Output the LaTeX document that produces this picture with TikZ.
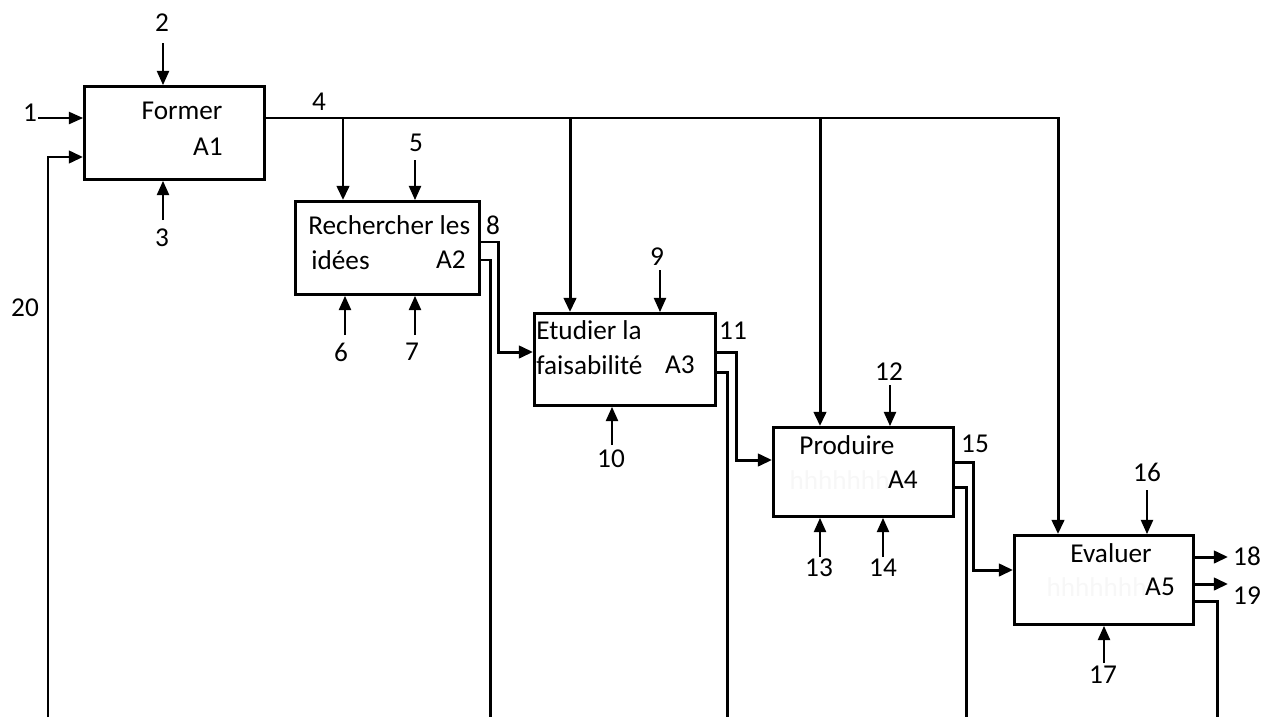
\documentclass[tikz,border=0pt]{standalone}
\usepackage{fontspec}
\setmainfont{Carlito}
\usetikzlibrary{arrows.meta,calc}
\begin{document}
\begin{tikzpicture}[x=0.02cm,y=-0.02cm,
  box/.style={draw, line width=1.7pt, rectangle, anchor=north west, inner sep=0},
  flow/.style={line width=1.7pt, -{Triangle[length=8pt,width=7pt]}},
  pipe/.style={line width=1.7pt},
  ctrl/.style={line width=0.7pt, -{Triangle[length=8pt,width=7pt]}},
  lbl/.style={font=\fontsize{15.5}{18}\selectfont, inner sep=0},
  faint/.style={font=\fontsize{15.5}{18}\selectfont, inner sep=0, text=black!3}]
\useasboundingbox (0,0) rectangle (1264,717);

% boxes
\node[box, minimum width=3.6cm,  minimum height=1.86cm] (A1) at (83,85) {};
\node[box, minimum width=3.68cm, minimum height=1.86cm] (A2) at (294,200) {};
\node[box, minimum width=3.62cm, minimum height=1.84cm] (A3) at (533,312) {};
\node[box, minimum width=3.6cm,  minimum height=1.78cm] (A4) at (772,426) {};
\node[box, minimum width=3.58cm, minimum height=1.78cm] (A5) at (1013,534) {};

% box texts
\node[lbl] (t1) at (182,111) {Former};
\node[lbl] (t1a) at (208,147) {A1};
\node[lbl, anchor=west] (t2) at (308,225) {Rechercher les};
\node[lbl, anchor=west] (t2b) at (311,260) {idées};
\node[lbl] (t2a) at (451,260) {A2};
\node[lbl, anchor=west] (t3) at (536,330) {Etudier la};
\node[lbl, anchor=west] (t3b) at (536,365) {faisabilité};
\node[lbl] (t3a) at (680,365) {A3};
\node[lbl] (t4) at (847,445) {Produire};
\node[faint, anchor=east] (h4) at (890,480) {hhhhhhh};
\node[lbl] (t4a) at (903,480) {A4};
\node[lbl] (t5) at (1111,553) {Evaluer};
\node[faint, anchor=east] (h5) at (1147,587) {hhhhhhh};
\node[lbl] (t5a) at (1160,587) {A5};

% number labels
\node[lbl] (n1) at (30,113) {1};
\node[lbl] (n2) at (162,23) {2};
\node[lbl] (n3) at (162,238) {3};
\node[lbl] (n4) at (319,102) {4};
\node[lbl] (n5) at (416,143) {5};
\node[lbl] (n6) at (341,352) {6};
\node[lbl] (n7) at (412,352) {7};
\node[lbl] (n8) at (493,225) {8};
\node[lbl] (n9) at (657,257) {9};
\node[lbl] (n10) at (611,459) {10};
\node[lbl] (n11) at (733,331) {11};
\node[lbl] (n12) at (889,372) {12};
\node[lbl] (n13) at (819,568) {13};
\node[lbl] (n14) at (883,568) {14};
\node[lbl] (n15) at (975,444) {15};
\node[lbl] (n16) at (1147,472) {16};
\node[lbl] (n17) at (1103,675) {17};
\node[lbl] (n18) at (1247,556) {18};
\node[lbl] (n19) at (1247,596) {19};
\node[lbl] (n20) at (25,308) {20};

% thin arrow tails
\coordinate (c1) at (38,118);
\coordinate (c2) at (163,43);
\coordinate (c3) at (163,220);
\coordinate (c5) at (415,160);
\coordinate (c6) at (345,335);
\coordinate (c7) at (415,335);
\coordinate (c9) at (660,270);
\coordinate (c10) at (612,445);
\coordinate (c12) at (890,385);
\coordinate (c13) at (820,557);
\coordinate (c14) at (883,557);
\coordinate (c16) at (1147,490);
\coordinate (c17) at (1104,663);

\draw[ctrl] (c1) -- (c1 -| A1.west);
\draw[ctrl] (c2) -- (c2 |- A1.north);
\draw[ctrl] (c3) -- (c3 |- A1.south);
\draw[ctrl] (c5) -- (c5 |- A2.north);
\draw[ctrl] (c6) -- (c6 |- A2.south);
\draw[ctrl] (c7) -- (c7 |- A2.south);
\draw[ctrl] (c9) -- (c9 |- A3.north);
\draw[ctrl] (c10) -- (c10 |- A3.south);
\draw[ctrl] (c12) -- (c12 |- A4.north);
\draw[ctrl] (c13) -- (c13 |- A4.south);
\draw[ctrl] (c14) -- (c14 |- A4.south);
\draw[ctrl] (c16) -- (c16 |- A5.north);
\draw[ctrl] (c17) -- (c17 |- A5.south);

% output 4 trunk and branches
\coordinate (o4) at ($(A1.north east)+(0,33)$);
\coordinate (j2) at (343,118);
\coordinate (j3) at (570,118);
\coordinate (j4) at (820,118);
\coordinate (j5) at (1058,118);
\draw[flow] (o4) -- (j5) -- (j5 |- A5.north);
\draw[flow] (j2) -- (j2 |- A2.north);
\draw[flow] (j3) -- (j3 |- A3.north);
\draw[flow] (j4) -- (j4 |- A4.north);

% feedback 20
\coordinate (b1) at (48,717);
\coordinate (i1) at ($(A1.north west)+(0,72)$);
\draw[flow] (b1) -- (b1 |- i1) -- (i1);

% output 8
\coordinate (o8) at ($(A2.north east)+(0,42)$);
\coordinate (k8) at (498,0);
\coordinate (i3) at ($(A3.north west)+(0,40)$);
\draw[flow] (o8) -- (o8 -| k8) -- (k8 |- i3) -- (i3);
\coordinate (p2) at ($(A2.north east)+(0,60)$);
\coordinate (b2) at (490,717);
\draw[pipe] (p2) -- (p2 -| b2) -- (b2);

% output 11
\coordinate (o11) at ($(A3.north east)+(0,40)$);
\coordinate (k11) at (736,0);
\coordinate (i4) at ($(A4.north west)+(0,34)$);
\draw[flow] (o11) -- (o11 -| k11) -- (k11 |- i4) -- (i4);
\coordinate (p3) at ($(A3.north east)+(0,60)$);
\coordinate (b3) at (727,717);
\draw[pipe] (p3) -- (p3 -| b3) -- (b3);

% output 15
\coordinate (o15) at ($(A4.north east)+(0,36)$);
\coordinate (k15) at (973,0);
\coordinate (i5) at ($(A5.north west)+(0,36)$);
\draw[flow] (o15) -- (o15 -| k15) -- (k15 |- i5) -- (i5);
\coordinate (p4) at ($(A4.north east)+(0,61)$);
\coordinate (b4) at (966,717);
\draw[pipe] (p4) -- (p4 -| b4) -- (b4);

% outputs of A5
\coordinate (o18) at ($(A5.north east)+(0,23)$);
\coordinate (e18) at (1228,557);
\draw[flow] (o18) -- (e18);
\coordinate (o19) at ($(A5.north east)+(0,50)$);
\coordinate (e19) at (1228,584);
\draw[flow] (o19) -- (e19);
\coordinate (p5) at ($(A5.north east)+(0,67)$);
\coordinate (b5) at (1217,717);
\draw[pipe] (p5) -- (p5 -| b5) -- (b5);
\end{tikzpicture}
\end{document}
